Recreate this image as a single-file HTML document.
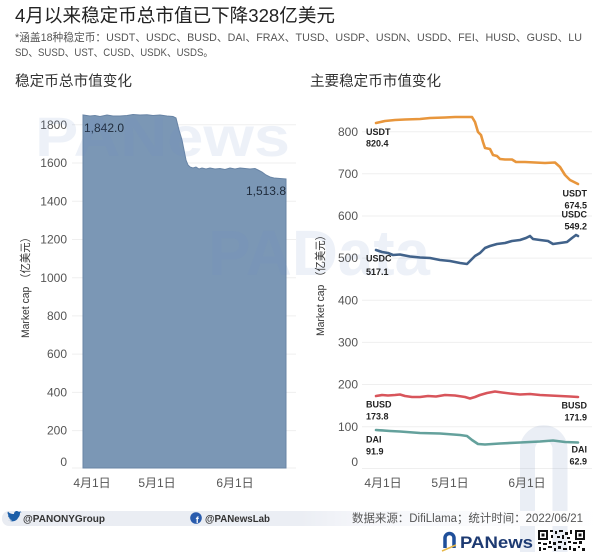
<!DOCTYPE html>
<html><head><meta charset="utf-8">
<style>
html,body{margin:0;padding:0;background:#fff;}
svg{display:block;}
text{font-family:"Liberation Sans","Noto Sans CJK SC",sans-serif;}
</style></head>
<body>
<svg width="600" height="552" viewBox="0 0 600 552" xmlns="http://www.w3.org/2000/svg">
<rect width="600" height="552" fill="#fff"/>

<!-- Titles -->
<text x="15" y="22" font-size="18.5" fill="#222" textLength="320" lengthAdjust="spacingAndGlyphs">4月以来稳定币总市值已下降328亿美元</text>
<text x="15" y="41" font-size="11" fill="#555" textLength="567" lengthAdjust="spacingAndGlyphs">*涵盖18种稳定币：USDT、USDC、BUSD、DAI、FRAX、TUSD、USDP、USDN、USDD、FEI、HUSD、GUSD、LU</text>
<text x="15" y="56" font-size="11" fill="#555" textLength="198" lengthAdjust="spacingAndGlyphs">SD、SUSD、UST、CUSD、USDK、USDS。</text>
<text x="15" y="86" font-size="14.5" fill="#333" textLength="117" lengthAdjust="spacingAndGlyphs">稳定币总市值变化</text>
<text x="310" y="86" font-size="14.5" fill="#333" textLength="131" lengthAdjust="spacingAndGlyphs">主要稳定币市值变化</text>

<!-- Left chart gridlines -->
<g stroke="#efefef" stroke-width="1">
<line x1="72" x2="296" y1="124.8" y2="124.8"/>
<line x1="72" x2="296" y1="163" y2="163"/>
<line x1="72" x2="296" y1="201.3" y2="201.3"/>
<line x1="72" x2="296" y1="239.5" y2="239.5"/>
<line x1="72" x2="296" y1="277.7" y2="277.7"/>
<line x1="72" x2="296" y1="315.9" y2="315.9"/>
<line x1="72" x2="296" y1="354.1" y2="354.1"/>
<line x1="72" x2="296" y1="392.4" y2="392.4"/>
<line x1="72" x2="296" y1="430.6" y2="430.6"/>
<line x1="72" x2="296" y1="468" y2="468"/>
</g>

<!-- Left area -->
<path d="M83,468 L83,115 L90,116 L95,115.5 L100,116.5 L107,115 L113,116 L120,116 L127,115.5 L133,114.5 L140,115 L147,114.8 L153,115.5 L160,115 L167,116 L173,116.5 L176,118 L179,130 L182,140 L184,150 L186,160 L188,165 L190,167 L193,168 L196,167 L199,169 L202,168 L206,169 L210,168 L215,169 L220,168.5 L225,169.5 L230,168 L235,169 L240,168 L245,168.5 L250,169 L255,168.5 L258,170 L262,172 L266,175 L270,177 L274,178 L280,178.5 L286,179 L286,468 Z" fill="#7b97b5" stroke="#6884a5" stroke-width="1"/>

<!-- Left axis labels -->
<g font-size="12" fill="#555" text-anchor="end">
<text x="67" y="129">1800</text>
<text x="67" y="167">1600</text>
<text x="67" y="205.5">1400</text>
<text x="67" y="243.5">1200</text>
<text x="67" y="282">1000</text>
<text x="67" y="320">800</text>
<text x="67" y="358">600</text>
<text x="67" y="396.5">400</text>
<text x="67" y="434.5">200</text>
<text x="67" y="466">0</text>
</g>
<g font-size="12" fill="#555" text-anchor="middle">
<text x="92" y="487">4月1日</text>
<text x="157" y="487">5月1日</text>
<text x="235" y="487">6月1日</text>
</g>
<text transform="translate(29,285) rotate(-90)" font-size="11" fill="#333" text-anchor="middle" textLength="106" lengthAdjust="spacingAndGlyphs">Market cap （亿美元）</text>
<text x="84" y="132" font-size="12" fill="#1e2a3a">1,842.0</text>
<text x="286" y="195" font-size="12" fill="#1e2a3a" text-anchor="end">1,513.8</text>

<!-- Right chart gridlines -->
<g stroke="#efefef" stroke-width="1">
<line x1="362" x2="592" y1="131.7" y2="131.7"/>
<line x1="362" x2="592" y1="173.8" y2="173.8"/>
<line x1="362" x2="592" y1="216" y2="216"/>
<line x1="362" x2="592" y1="258.1" y2="258.1"/>
<line x1="362" x2="592" y1="300.2" y2="300.2"/>
<line x1="362" x2="592" y1="342.4" y2="342.4"/>
<line x1="362" x2="592" y1="384.5" y2="384.5"/>
<line x1="362" x2="592" y1="426.7" y2="426.7"/>
<line x1="362" x2="592" y1="468.5" y2="468.5"/>
</g>

<!-- Watermarks -->
<text x="35" y="156" font-size="56" font-weight="bold" fill="rgba(110,140,195,0.12)" textLength="255" lengthAdjust="spacingAndGlyphs">PANews</text>
<text x="208" y="275" font-size="64" font-weight="bold" fill="rgba(110,140,195,0.12)" textLength="222" lengthAdjust="spacingAndGlyphs">PAData</text>
<path d="M527.5,552 V449 A16.25,16.25 0 0 1 560,449 V552" fill="none" stroke="rgba(150,170,205,0.2)" stroke-width="15"/>

<!-- Right axis labels -->
<g font-size="12" fill="#555" text-anchor="end">
<text x="358" y="136">800</text>
<text x="358" y="178">700</text>
<text x="358" y="220">600</text>
<text x="358" y="262">500</text>
<text x="358" y="304.5">400</text>
<text x="358" y="346.5">300</text>
<text x="358" y="388.5">200</text>
<text x="358" y="431">100</text>
<text x="358" y="466">0</text>
</g>
<g font-size="12" fill="#555" text-anchor="middle">
<text x="383" y="487">4月1日</text>
<text x="450" y="487">5月1日</text>
<text x="527" y="487">6月1日</text>
</g>
<text transform="translate(324,283) rotate(-90)" font-size="11" fill="#333" text-anchor="middle" textLength="106" lengthAdjust="spacingAndGlyphs">Market cap （亿美元）</text>

<!-- Series -->
<g fill="none" stroke-width="2.6" stroke-linejoin="round" stroke-linecap="round">
<polyline stroke="#e8963c" points="376,123 385,121 395,120 405,119.5 420,119 430,118 445,117.5 455,117 465,117 472,117 475,122 478,132 481,135 483,142 485,148 490,149 493,155 497,156 500,159 505,159.5 512,159.5 516,162 525,162 535,162.5 545,163 555,162.5 560,167 565,175 570,180 574,182 578,184"/>
<polyline stroke="#41628a" points="376,250 382,252 388,253 393,255 400,254.5 410,256.5 420,257.5 430,258 440,260 450,261 460,263 467,264 471,260 475,256 480,253 485,248 490,246 497,244 505,243 512,241 520,240 526,238 530,236 533,239 540,240 548,241 553,244 560,243 567,242 572,238 576,235 578,236"/>
<polyline stroke="#d8555b" points="376,396 382,395 388,395.5 395,395 400,394.5 405,396 412,397 420,397 428,396 436,396.5 445,395 455,395.5 465,397 470,398.5 475,397 480,395 487,393 495,391.5 502,392.5 510,393.5 520,394.5 530,394 540,395 550,395.5 560,396 570,396.5 578,397"/>
<polyline stroke="#64a19c" points="376,430 390,431 400,431.5 420,433 440,433.5 460,435 467,436 472,440 478,444 485,444.5 500,443.5 520,442.5 540,441.5 553,440.5 565,442 578,442.5"/>
</g>

<!-- Series labels -->
<g font-size="9" font-weight="bold" fill="#222">
<text x="366" y="135">USDT</text>
<text x="366" y="146.5">820.4</text>
<text x="366" y="261.5">USDC</text>
<text x="366" y="275">517.1</text>
<text x="366" y="407.5">BUSD</text>
<text x="366" y="419.5">173.8</text>
<text x="366" y="442.5">DAI</text>
<text x="366" y="454.5">91.9</text>
</g>
<g font-size="9" font-weight="bold" fill="#222" text-anchor="end">
<text x="587" y="196.5">USDT</text>
<text x="587" y="208.5">674.5</text>
<text x="587" y="217.5">USDC</text>
<text x="587" y="229.5">549.2</text>
<text x="587" y="408.5">BUSD</text>
<text x="587" y="420.5">171.9</text>
<text x="587" y="452.5">DAI</text>
<text x="587" y="464.5">62.9</text>
</g>

<!-- Footer band -->
<defs>
<linearGradient id="bandg" x1="0" x2="1" y1="0" y2="0">
<stop offset="0" stop-color="#e9ecf2"/>
<stop offset="0.5" stop-color="#ebeef4"/>
<stop offset="0.6" stop-color="#f5f6fa"/>
<stop offset="1" stop-color="#ffffff"/>
</linearGradient>
</defs>
<rect x="2" y="511" width="598" height="15" rx="7" fill="url(#bandg)"/>
<!-- twitter bird -->
<path d="M8,520 C11,522 16,522 18,518 C20,516 20,514 20,513 L22,512 L20,512.5 L21,511 L19,512 C17,510 14,511 14,514 C11,514 9,513 8,511.5 C7,513 8,515 9,515.5 L8,515.3 C8,517 9,518 10.5,518.3 L9,518.4 C10,519.5 11,520 12,520 C11,521 9.5,521 8,520 Z" fill="#1d5fa8"/>
<text x="23" y="522" font-size="10" font-weight="bold" fill="#333" textLength="82" lengthAdjust="spacingAndGlyphs">@PANONYGroup</text>
<!-- facebook -->
<circle cx="196" cy="518" r="5.8" fill="#2a5cad"/>
<text x="197.3" y="523" font-size="9" font-weight="bold" fill="#fff" text-anchor="middle">f</text>
<text x="205" y="522" font-size="10" font-weight="bold" fill="#333" textLength="65" lengthAdjust="spacingAndGlyphs">@PANewsLab</text>
<text x="352" y="522" font-size="11.5" fill="#555" textLength="231" lengthAdjust="spacingAndGlyphs">数据来源：DifiLlama；统计时间：2022/06/21</text>

<!-- PANews logo -->
<path d="M445,548 V538 A4.5,4.5 0 0 1 454,538 V548" fill="none" stroke="#1f4f9a" stroke-width="3.5"/>
<path d="M442,551 L456,545" stroke="#e8b94a" stroke-width="1.5"/>
<text x="460" y="548" font-size="17" font-weight="bold" fill="#1d3a72" textLength="73" lengthAdjust="spacingAndGlyphs">PANews</text>
<!-- QR code -->
<g fill="#111">
<rect x="538" y="530" width="10" height="10"/>
<rect x="540" y="532" width="6" height="6" fill="#fff"/>
<rect x="541.5" y="533.5" width="3" height="3"/>
<rect x="575" y="530" width="10" height="10"/>
<rect x="577" y="532" width="6" height="6" fill="#fff"/>
<rect x="578.5" y="533.5" width="3" height="3"/>
<rect x="550" y="530" width="3" height="2"/><rect x="555" y="531" width="2" height="3"/><rect x="559" y="530" width="4" height="2"/><rect x="565" y="532" width="3" height="3"/><rect x="570" y="530" width="2" height="4"/>
<rect x="551" y="535" width="2" height="3"/><rect x="557" y="536" width="3" height="2"/><rect x="562" y="535" width="2" height="4"/><rect x="567" y="537" width="3" height="2"/>
<rect x="538" y="542" width="3" height="2"/><rect x="543" y="543" width="4" height="2"/><rect x="549" y="541" width="2" height="3"/><rect x="553" y="542" width="3" height="3"/><rect x="558" y="541" width="4" height="2"/><rect x="564" y="542" width="2" height="3"/><rect x="568" y="541" width="3" height="2"/><rect x="573" y="542" width="4" height="2"/><rect x="579" y="541" width="3" height="3"/>
<rect x="539" y="547" width="2" height="4"/><rect x="543" y="548" width="3" height="2"/><rect x="548" y="546" width="4" height="2"/><rect x="554" y="548" width="2" height="3"/><rect x="558" y="546" width="3" height="3"/><rect x="563" y="548" width="4" height="2"/><rect x="569" y="546" width="2" height="4"/><rect x="573" y="548" width="3" height="3"/><rect x="578" y="546" width="2" height="2"/><rect x="582" y="548" width="3" height="3"/>
</g>
</svg>
</body></html>
